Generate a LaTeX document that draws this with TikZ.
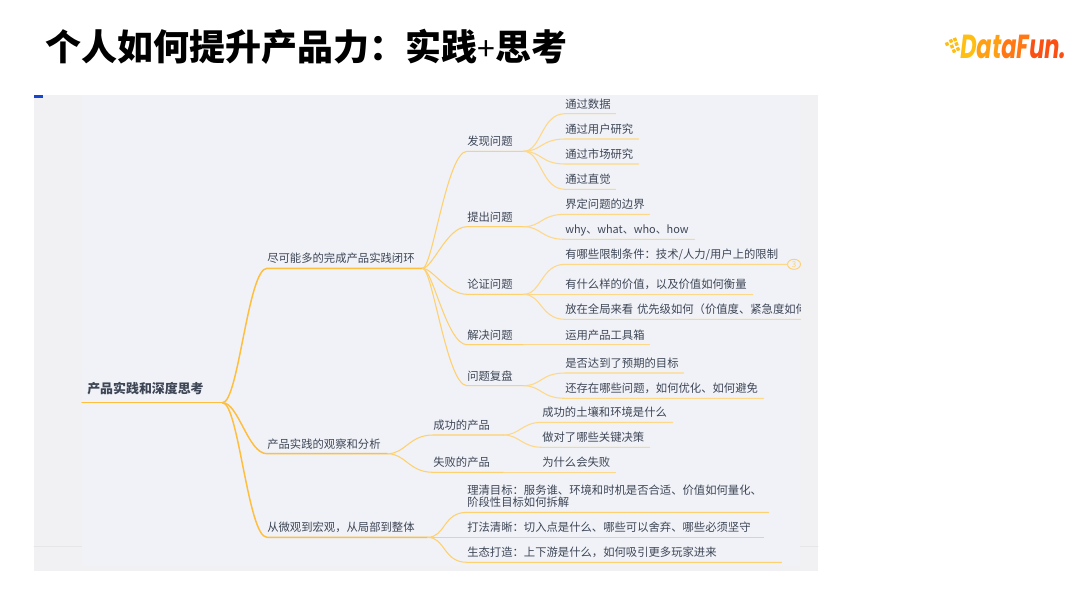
\documentclass[tikz,border=0pt]{standalone}
\usepackage{fontspec}
\setmainfont{Noto Sans CJK SC}
\newfontfamily\logofont[FakeSlant=0.12,FakeStretch=0.68]{Poppins}
\usetikzlibrary{shapes.geometric}
\definecolor{Outerbg}{RGB}{241,241,243}
\definecolor{Panelbg}{RGB}{240,242,247}
\definecolor{Edgegray}{RGB}{230,230,232}
\definecolor{Marker}{RGB}{20,70,210}
\definecolor{Textcol}{RGB}{62,70,86}
\definecolor{Lineone}{RGB}{255,190,60}
\definecolor{Linetwo}{RGB}{255,208,110}
\definecolor{Linethree}{RGB}{255,216,135}
\definecolor{LogoA}{RGB}{255,190,20}
\definecolor{LogoB}{RGB}{255,160,20}
\definecolor{LogoC}{RGB}{255,120,20}
\definecolor{LogoD}{RGB}{250,80,20}
% full-width punctuation
\newcommand{\cnColon}{\char"FF1A\relax}
\newcommand{\cnComma}{\char"FF0C\relax}
\newcommand{\cnParen}{\char"FF08\relax}
\tikzset{
  item/.style={anchor=south west,text width=#1*0.75pt,inner xsep=0pt,inner ysep=3.9pt,text depth=0pt,
    align=left,text=Textcol,font=\fontsize{8.5}{9}\selectfont},
  line1/.style={draw=Lineone,line width=1.1pt},
  line2/.style={draw=Linetwo,line width=0.8pt},
  line3/.style={draw=Linethree,line width=0.8pt},
  logodot/.style={fill=LogoA,rotate=20,minimum size=2.6pt,inner sep=0pt}
}
\begin{document}
\begin{tikzpicture}[x=0.75pt,y=-0.75pt,line cap=round,line join=round]
\path[use as bounding box] (0,0) rectangle (1080,608);
% slide header
\node[anchor=west,inner sep=0pt,font=\fontsize{27}{30}\selectfont\bfseries] (title) at (45,47) {个人如何提升产品力\cnColon 实践{\mdseries\fontsize{24}{30}\selectfont +}思考};
\node[anchor=base west,inner sep=0pt,font=\logofont\bfseries\fontsize{25}{27}\selectfont] (logo) at (959,58) {\textcolor{LogoA}{D}\textcolor{LogoB}{at}\textcolor{LogoC}{aF}\textcolor{LogoD}{un.}};
\node[logodot] (dota) at (947,44) {};
\node[logodot] (dotb) at (951,41) {};
\node[logodot] (dotc) at (955,39.5) {};
\node[logodot] (dotd) at (952,46.5) {};
\node[logodot] (dote) at (956.5,44) {};
\node[logodot] (dotf) at (958,49) {};
\node[logodot] (dotg) at (954,51) {};
% screenshot background
\fill[Outerbg] (34,95) rectangle (818,571);
\draw[Edgegray,line width=0.6pt] (34,546.7) -- (82,546.7);
\draw[Edgegray,line width=0.6pt] (800,546.7) -- (818,546.7);
\fill[Panelbg] (82,95) rectangle (800,566);
\fill[Marker] (34,95) rectangle (43,97.5);
% level 0 and 1
\node[item=140,inner ysep=6.6pt,font=\fontsize{9.7}{11}\selectfont\bfseries] (root) at (82,402.7) {\hspace*{3.75pt}产品实践和深度思考};
\node[item=155] (loop) at (267,268.3) {尽可能多的完成产品实践闭环};
\node[item=120] (observe) at (267,453.7) {产品实践的观察和分析};
\node[item=160] (scale) at (267,537.3) {从微观到宏观\cnComma 从局部到整体};
% level 2
\node[item=56] (find) at (467,151.3) {发现问题};
\node[item=56] (raise) at (467,226.7) {提出问题};
\node[item=56] (argue) at (467,294.3) {论证问题};
\node[item=56] (solve) at (467,344.7) {解决问题};
\node[item=56] (review) at (467,385.7) {问题复盘};
\node[item=70] (good) at (433,435) {成功的产品};
\node[item=70] (bad) at (433,472.3) {失败的产品};
\node[item=301,text depth=9pt] (goal) at (467,512.3) {理清目标\cnColon 服务谁、环境和时机是否合适、价值如何量化、\\阶段性目标如何拆解};
\node[item=296] (play) at (467,537.3) {打法清晰\cnColon 切入点是什么、哪些可以舍弃、哪些必须坚守};
\node[item=314] (eco) at (467,562.3) {生态打造\cnColon 上下游是什么\cnComma 如何吸引更多玩家进来};
% leaves
\node[item=50] (data) at (565,113.7) {通过数据};
\node[item=73] (user) at (565,139) {通过用户研究};
\node[item=73] (market) at (565,164) {通过市场研究};
\node[item=50] (sense) at (565,189.3) {通过直觉};
\node[item=84] (edge) at (565,214.3) {界定问题的边界};
\node[item=129,font=\fontsize{8.2}{9}\selectfont] (why) at (565,239.3) {why、what、who、how};
\node[item=222] (limit) at (565,264.3) {有哪些限制条件\cnColon 技术/人力/用户上的限制};
\node[item=187] (value) at (565,294.3) {有什么样的价值\cnComma 以及价值如何衡量};
\begin{scope}
\clip (82,300) rectangle (800,325);
\node[item=235] (rank) at (565,319.3) {\makebox[0pt][l]{放在全局来看 优先级如何\cnParen 价值度、紧急度如何}};
\end{scope}
\node[item=84] (tool) at (565,344.7) {运用产品工具箱};
\node[item=118] (target) at (565,373) {是否达到了预期的目标};
\node[item=198] (left) at (565,398.3) {还存在哪些问题\cnComma 如何优化、如何避免};
\node[item=130] (soil) at (542,422.3) {成功的土壤和环境是什么};
\node[item=107] (choice) at (542,447.3) {做对了哪些关键决策};
\node[item=73] (fail) at (542,472.3) {为什么会失败};
\node[draw=Linetwo,ellipse,line width=0.7pt,minimum width=9.75pt,minimum height=7.5pt,inner sep=0pt,text=Linetwo,font=\fontsize{6}{6}\selectfont] (more) at (794,264.3) {3};
% branches
\draw[line1] (root.south west) -- (root.south east);
\draw[line1] (root.south east) .. controls +(16,0) and +(-19,0) .. (loop.south west) -- (loop.south east);
\draw[line1] (root.south east) .. controls +(16,0) and +(-19,0) .. (observe.south west) -- (observe.south east);
\draw[line1] (root.south east) .. controls +(16,0) and +(-19,0) .. (scale.south west) -- (scale.south east);
\draw[line2] (loop.south east) .. controls +(10,0) and +(-20,0) .. (find.south west) -- (find.south east);
\draw[line2] (loop.south east) .. controls +(10,0) and +(-20,0) .. (raise.south west) -- (raise.south east);
\draw[line2] (loop.south east) .. controls +(10,0) and +(-20,0) .. (argue.south west) -- (argue.south east);
\draw[line2] (loop.south east) .. controls +(10,0) and +(-20,0) .. (solve.south west) -- (solve.south east);
\draw[line2] (loop.south east) .. controls +(10,0) and +(-20,0) .. (review.south west) -- (review.south east);
\draw[line2] (observe.south east) .. controls +(18,0) and +(-24,0) .. (good.south west) -- (good.south east);
\draw[line2] (observe.south east) .. controls +(18,0) and +(-24,0) .. (bad.south west) -- (bad.south east);
\draw[line2] (scale.south east) .. controls +(18,0) and +(-24,0) .. (goal.south west) -- (goal.south east);
\draw[line2] (scale.south east) -- (play.south west) -- (play.south east);
\draw[line2] (scale.south east) .. controls +(18,0) and +(-24,0) .. (eco.south west) -- (eco.south east);
\draw[line3] (find.south east) .. controls +(18,0) and +(-24,0) .. (data.south west) -- (data.south east);
\draw[line3] (find.south east) .. controls +(18,0) and +(-24,0) .. (user.south west) -- (user.south east);
\draw[line3] (find.south east) .. controls +(18,0) and +(-24,0) .. (market.south west) -- (market.south east);
\draw[line3] (find.south east) .. controls +(18,0) and +(-24,0) .. (sense.south west) -- (sense.south east);
\draw[line3] (raise.south east) .. controls +(18,0) and +(-24,0) .. (edge.south west) -- (edge.south east);
\draw[line3] (raise.south east) .. controls +(18,0) and +(-24,0) .. (why.south west) -- (why.south east);
\draw[line3] (argue.south east) .. controls +(18,0) and +(-24,0) .. (limit.south west) -- (limit.south east) -- (more.west);
\draw[line3] (argue.south east) -- (value.south west) -- (value.south east);
\draw[line3] (argue.south east) .. controls +(18,0) and +(-24,0) .. (rank.south west) -- (rank.south east);
\draw[line3] (solve.south east) -- (tool.south west) -- (tool.south east);
\draw[line3] (review.south east) .. controls +(18,0) and +(-24,0) .. (target.south west) -- (target.south east);
\draw[line3] (review.south east) .. controls +(18,0) and +(-24,0) .. (left.south west) -- (left.south east);
\draw[line3] (good.south east) .. controls +(16,0) and +(-20,0) .. (soil.south west) -- (soil.south east);
\draw[line3] (good.south east) .. controls +(16,0) and +(-20,0) .. (choice.south west) -- (choice.south east);
\draw[line3] (bad.south east) -- (fail.south west) -- (fail.south east);
\end{tikzpicture}
\end{document}
